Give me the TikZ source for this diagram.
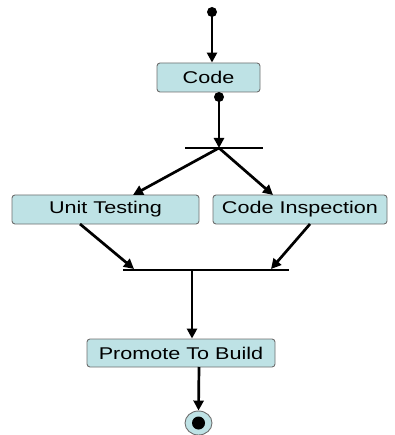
\documentclass[tikz,border=0pt]{standalone}
\usepackage{fontspec}
\newfontfamily\labfont[FakeStretch=1.27]{Liberation Sans}
\usetikzlibrary{arrows.meta,shapes.geometric}
\definecolor{boxfill}{RGB}{190,226,229}
\definecolor{boxline}{RGB}{110,110,110}
\tikzset{
  activity/.style={draw=boxline, line width=0.9pt, fill=boxfill, rounded corners=3pt,
    minimum height=29pt, inner sep=0pt, font=\labfont\fontsize{17}{19}\selectfont},
  flow/.style={line width=2.7pt, -{Triangle[length=10pt,width=10pt]}},
  bar/.style={line width=2.4pt},
  dotnode/.style={circle, fill=black, minimum size=10pt, inner sep=0pt}
}
\begin{document}
\begin{tikzpicture}[x=1pt,y=-1pt]
\useasboundingbox (0,0) rectangle (394,435);
% nodes
\node[dotnode] (start) at (212,12) {};
\node[activity, minimum width=103pt] (code) at (208.5,77.5) {Code};
\node[dotnode] (codeout) at (219,97) {};
\coordinate (forkL) at (185,148);
\coordinate (forkR) at (263,148);
\coordinate (fork) at (219,148);
\node[activity, minimum width=187pt] (unit) at (105.5,209.5) {Unit Testing};
\node[activity, minimum width=174pt] (insp) at (300,209.5) {Code Inspection};
\coordinate (joinL) at (123,270);
\coordinate (joinR) at (289,270);
\coordinate (joinIn1) at (134,269);
\coordinate (joinIn2) at (271,269);
\coordinate (join) at (192,270);
\node[activity, minimum width=188pt, minimum height=28pt] (promote) at (181,353) {Promote To Build};
\node[draw=boxline, line width=0.9pt, fill=boxfill, ellipse, minimum width=27pt, minimum height=24pt, inner sep=0pt] (final) at (198.5,423) {};
\node[ellipse, fill=black, minimum width=13pt, minimum height=13pt, inner sep=0pt] (finaldot) at (final.center) {};
% connectors
\draw[flow] (start.center) -- (start.center |- code.north);
\draw[flow] (codeout.center) -- (fork);
\draw[bar] (forkL) -- (forkR);
\draw[flow] (fork) -- (133,195);
\draw[flow] (fork) -- (273,195);
\draw[flow] (80,224) -- (joinIn1);
\draw[flow] (310,224) -- (joinIn2);
\draw[bar] (joinL) -- (joinR);
\draw[flow] (join) -- (join |- promote.north);
\draw[flow] (199,367) -- (final.north);
\end{tikzpicture}
\end{document}
